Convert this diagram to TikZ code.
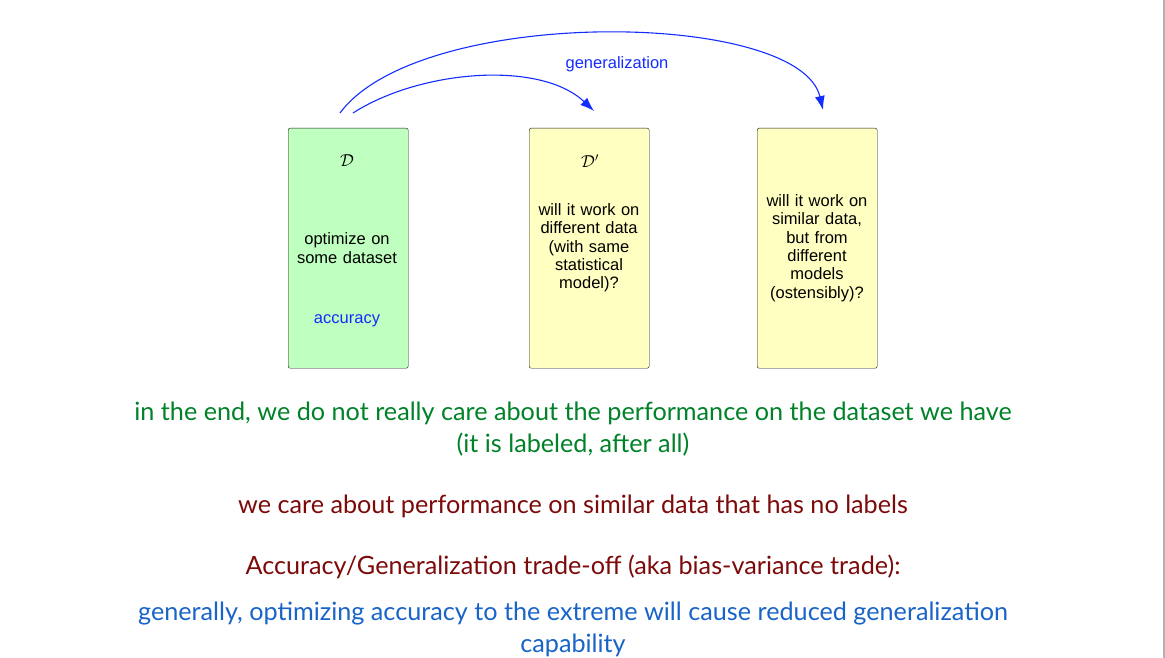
\documentclass[tikz,border=0pt]{standalone}
\usepackage{fontspec}
\setmainfont{Lato}
\newfontfamily\boxfont{Liberation Sans}
\usetikzlibrary{arrows.meta}
\definecolor{boxgreen}{RGB}{191,255,191}
\definecolor{boxyellow}{RGB}{255,255,193}
\definecolor{arrowblue}{RGB}{20,45,255}
\definecolor{txtgreen}{RGB}{0,130,40}
\definecolor{txtred}{RGB}{125,10,10}
\definecolor{txtblue}{RGB}{25,100,200}
\begin{document}
\begin{tikzpicture}[x=1pt,y=-1pt,
  card/.style={shape=rectangle, draw=black!90, rounded corners=2pt, minimum width=120pt, minimum height=240pt, anchor=north west},
  inner/.style={align=center, font=\boxfont\fontsize{16.5}{18.3}\selectfont, text width=116pt},
  gen/.style={draw=arrowblue, line width=1.1pt, -{Latex[length=14pt,width=10pt]}},
  say/.style={align=center, font=\fontsize{25.2}{32}\selectfont}]
  \useasboundingbox (0,0) rectangle (1165,658);
  \fill[white] (0,0) rectangle (1165,658);
  \draw[black!30, line width=2pt] (1164,0) -- (1164,658);
  % the three boxes
  \node[card, fill=boxgreen] (train) at (288,128) {};
  \node[card, fill=boxyellow] (same) at (529,128) {};
  \node[card, fill=boxyellow] (other) at (757,128) {};
  \node[inner] (dname) at (347,161) {$\mathcal{D}$};
  \node[inner] (opt) at (347,248) {optimize on\\some dataset};
  \node[inner, text=arrowblue] (acc) at (347,321) {accuracy};
  \node[inner] (dprime) at (590,161) {$\mathcal{D}'$};
  \node[inner] (q1) at (589,248) {will it work on\\different data\\(with same\\statistical\\model)?};
  \node[inner] (q2) at (817,248) {will it work on\\similar data,\\but from\\different\\models\\(ostensibly)?};
  % arrows
  \coordinate (src1) at (353,113);
  \coordinate (src2) at (340,113);
  \coordinate (tgt1) at (594,111);
  \coordinate (tgt2) at (823,110);
  \draw[gen] (src1) .. controls (420,70) and (540,60) .. (tgt1);
  \draw[gen] (src2) .. controls (420,5) and (800,10) .. (tgt2);
  \node[inner, text=arrowblue] (genlabel) at (617,64) {generalization};
  % the remarks
  \node[say, text=txtgreen] (care) at (573,429) {in the end, we do not really care about the performance on the dataset we have\\(it is labeled, after all)};
  \node[say, text=txtred] (similar) at (573,506) {we care about performance on similar data that has no labels};
  \node[say, text=txtred] (tradeoff) at (573,567) {Accuracy/Generalization trade-off (aka bias-variance trade):};
  \node[say, text=txtblue] (extreme) at (573,629) {generally, optimizing accuracy to the extreme will cause reduced generalization\\capability};
\end{tikzpicture}
\end{document}
